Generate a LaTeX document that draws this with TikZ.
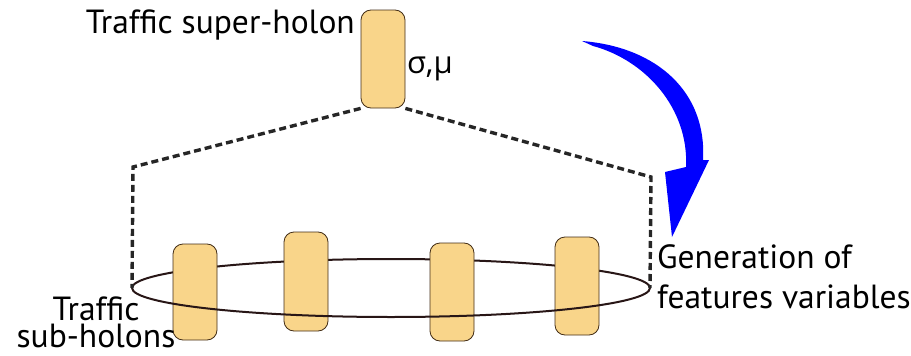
\documentclass[tikz,border=0pt]{standalone}
\usepackage{fontspec}
\setmainfont{PT Sans}
\newfontfamily\greekfont{Open Sans}
\begin{document}
\begin{tikzpicture}[x=1pt,y=-1pt,
  holon/.style={draw=black!65!brown, line width=0.8pt, fill=holonfill, rounded corners=10pt,
    minimum width=44pt, inner sep=0pt},
  dashline/.style={draw=black!85, line width=3.4pt, dash pattern=on 7pt off 4pt},
  ring/.style={draw=ringcol, line width=2pt},
  lbl/.style={font=\fontsize{33.5}{33.5}\selectfont, inner sep=0pt}]
\definecolor{holonfill}{RGB}{249,213,138}
\definecolor{ringcol}{RGB}{40,22,22}
\useasboundingbox (0,0) rectangle (911,356);

% ring (ellipse) centre
\coordinate (ec) at (391,288);
\coordinate (el) at (132,288);
\coordinate (er) at (650,288);

% back half of ring
\draw[ring] (er) arc[start angle=0, end angle=180, x radius=259pt, y radius=29pt];

% super-holon
\node[holon, minimum height=98pt] (t) at (383,59) {};

% sub-holons
\node[holon, minimum height=96pt] (s1) at (195,292) {};
\node[holon, minimum height=99pt] (s2) at (306,281.5) {};
\node[holon, minimum height=98pt] (s3) at (452,292) {};
\node[holon, minimum height=98pt] (s4) at (577,286) {};

% front half of ring
\draw[ring] (el) arc[start angle=180, end angle=360, x radius=259pt, y radius=29pt];

% dashed connectors
\coordinate (cl) at (133,167);
\coordinate (cr) at (651,177);
\draw[dashline] (t.south west) -- (cl) -- (el);
\draw[dashline] (t.south east) -- (cr) -- (er);

% blue curved arrow
\fill[blue] (582,41) .. controls (657,47) and (707,92) .. (703,160)
  -- (709,160) -- (672,237) -- (665,172) -- (686,167)
  .. controls (689,108) and (645,60) .. (593,46) -- cycle;

% labels
\node[lbl, anchor=base east] (tsup) at (355,33) {Traffic super-holon};
\node[lbl, anchor=base west, font=\greekfont\fontsize{31}{31}\selectfont] (sm) at (407,73) {σ,μ};
\node[lbl, anchor=base west, align=left, font=\fontsize{33.5}{40}\selectfont] (gen) at (657,308)
  {Generation of\\features variables};
\node[lbl, anchor=base, align=center, font=\fontsize{33.5}{27}\selectfont] (tsub) at (96,347)
  {Traffic\\sub-holons};
\end{tikzpicture}
\end{document}
